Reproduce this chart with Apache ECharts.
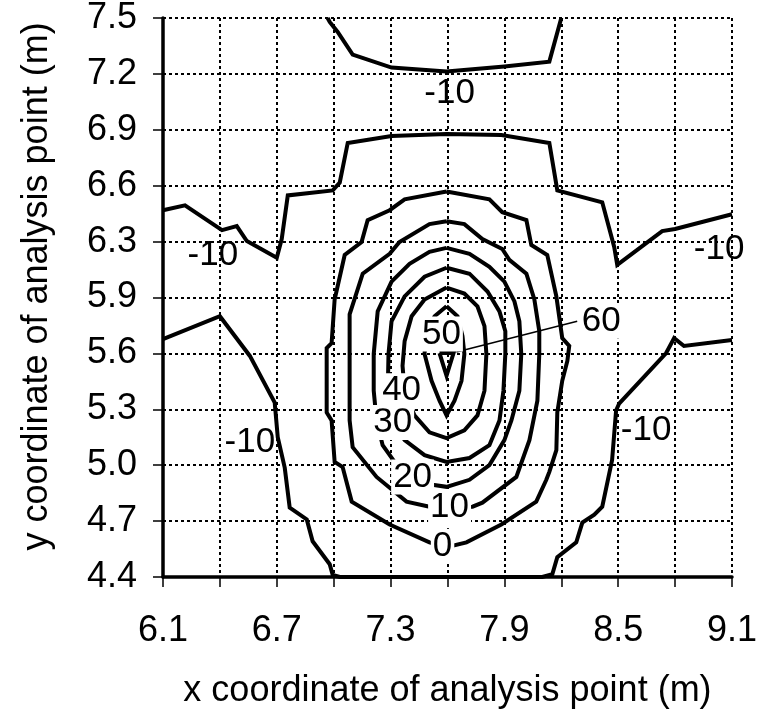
<!DOCTYPE html>
<html><head><meta charset="utf-8">
<script src="https://cdn.jsdelivr.net/npm/echarts@6/dist/echarts.min.js"></script>
<style>html,body{margin:0;padding:0;background:#fff}#c{width:760px;height:714px}</style>
</head><body><div id="c"></div>
<script>
// ---- axis data ----
const xMin = 6.1, xMax = 9.1, xStep = 0.3;
const yMin = 4.4, yMax = 7.5, yStep = 0.31;
const xTickLabels = ['6.1', '6.7', '7.3', '7.9', '8.5', '9.1'];
const yTickLabels = ['4.4', '4.7', '5.0', '5.3', '5.6', '5.9', '6.3', '6.6', '6.9', '7.2', '7.5'];
const xTitle = 'x coordinate of analysis point (m)';
const yTitle = 'y coordinate of analysis point (m)';

// ---- contour lines (x, y in metres) ----
const contourM10Top = [[6.968,7.5],[6.979,7.478],[7.021,7.423],[7.100,7.297],[7.305,7.225],[7.595,7.203],[7.900,7.231],[8.137,7.258],[8.200,7.5]];
const contourM10Upper = [[6.1,6.434],[6.216,6.461],[6.411,6.324],[6.489,6.346],[6.542,6.263],[6.700,6.170],[6.726,6.274],[6.758,6.516],[6.995,6.544],[7.032,6.588],[7.074,6.807],[7.305,6.846],[7.595,6.857],[7.884,6.851],[8.137,6.807],[8.179,6.544],[8.416,6.478],[8.479,6.230],[8.495,6.131],[8.732,6.318],[8.800,6.330],[9.1,6.412]];
const contourM10Lower = [[6.1,5.719],[6.4,5.846],[6.558,5.626],[6.689,5.367],[6.705,5.175],[6.742,5.005],[6.768,4.785],[6.858,4.719],[6.889,4.598],[6.979,4.471],[6.995,4.411],[7.032,4.4],[8.1,4.4],[8.153,4.416],[8.179,4.510],[8.279,4.592],[8.311,4.702],[8.374,4.746],[8.416,4.790],[8.468,5.049],[8.489,5.323],[8.505,5.362],[8.753,5.642],[8.795,5.725],[8.847,5.681],[9.1,5.714]];
const contour0 = [[7.595,6.538],[7.821,6.494],[7.889,6.423],[8.016,6.379],[8.042,6.241],[8.126,6.186],[8.174,5.956],[8.205,5.725],[8.242,5.681],[8.232,5.598],[8.205,5.488],[8.179,5.312],[8.174,5.104],[8.137,4.983],[8.121,4.939],[8.068,4.818],[7.884,4.691],[7.700,4.592],[7.595,4.565],[7.505,4.592],[7.295,4.691],[7.095,4.818],[7.047,5.010],[7.005,5.038],[6.989,5.268],[6.963,5.312],[6.963,5.670],[6.989,5.697],[7.005,5.939],[7.058,6.186],[7.147,6.258],[7.179,6.379],[7.295,6.434],[7.374,6.494],[7.595,6.538]];
const contour10 = [[7.595,6.373],[7.689,6.357],[7.784,6.274],[7.889,6.219],[7.926,6.159],[8.016,6.082],[8.058,5.939],[8.084,5.763],[8.084,5.637],[8.074,5.378],[8.032,5.159],[7.963,4.955],[7.784,4.812],[7.732,4.790],[7.595,4.785],[7.505,4.790],[7.384,4.818],[7.226,4.955],[7.100,5.120],[7.084,5.268],[7.084,5.637],[7.084,5.857],[7.153,6.082],[7.295,6.192],[7.347,6.258],[7.505,6.357],[7.595,6.373]];
const contour20 = [[7.595,6.225],[7.716,6.192],[7.821,6.120],[7.900,6.038],[7.953,5.928],[7.979,5.818],[7.989,5.637],[7.979,5.433],[7.937,5.268],[7.900,5.159],[7.821,5.021],[7.716,4.939],[7.595,4.900],[7.521,4.911],[7.416,4.955],[7.321,5.038],[7.258,5.131],[7.226,5.268],[7.211,5.433],[7.211,5.637],[7.232,5.873],[7.305,6.038],[7.400,6.137],[7.505,6.203],[7.595,6.225]];
const contour30 = [[7.595,6.115],[7.716,6.082],[7.811,5.983],[7.874,5.873],[7.905,5.763],[7.905,5.637],[7.895,5.433],[7.874,5.268],[7.821,5.131],[7.716,5.060],[7.595,5.038],[7.479,5.076],[7.374,5.159],[7.311,5.257],[7.284,5.378],[7.289,5.637],[7.305,5.818],[7.374,5.956],[7.479,6.065],[7.595,6.115]];
const contour40 = [[7.595,6.005],[7.689,5.972],[7.758,5.901],[7.795,5.791],[7.805,5.637],[7.795,5.433],[7.758,5.296],[7.689,5.213],[7.595,5.170],[7.505,5.202],[7.426,5.296],[7.374,5.433],[7.363,5.571],[7.374,5.708],[7.411,5.846],[7.479,5.939],[7.595,6.005]];
const contour50 = [[7.595,5.901],[7.653,5.846],[7.679,5.736],[7.689,5.637],[7.674,5.488],[7.637,5.378],[7.595,5.296],[7.558,5.378],[7.516,5.488],[7.479,5.637],[7.489,5.763],[7.532,5.846],[7.595,5.901]];
const contour60 = [[7.558,5.642],[7.632,5.642],[7.595,5.516],[7.558,5.642]];
const leader60 = [[7.647,5.648],[8.284,5.818]];

// ---- contour labels ----
const outerLabelText = ['-10', '-10', '-10', '-10', '-10'];
const outerLabelX = [7.611, 6.363, 9.032, 6.558, 8.647];
const outerLabelY = [7.082, 6.186, 6.219, 5.148, 5.213];
const innerLabelText = ['0', '10', '20', '30', '40', '50', '60'];
const innerLabelX = [7.574, 7.611, 7.416, 7.311, 7.358, 7.568, 8.411];
const innerLabelY = [4.570, 4.785, 4.955, 5.257, 5.433, 5.747, 5.818];

const FONT = "'Liberation Sans', Arial, Helvetica, sans-serif";

const lines = [contourM10Top, contourM10Upper, contourM10Lower, contour0, contour10, contour20, contour30, contour40, contour50, contour60];
const series = lines.map(d => ({
  type: 'line', data: d, showSymbol: false, symbol: 'none', smooth: false,
  lineStyle: { color: '#000', width: 4, join: 'miter' }, z: 3, silent: true
}));
series.push({
  type: 'line', data: leader60, showSymbol: false, symbol: 'none',
  lineStyle: { color: '#000', width: 1.6 }, z: 3, silent: true
});
function labelSeries(texts, xs, ys, withBg) {
  return {
    type: 'custom', z: 6, silent: true, clip: false,
    data: texts.map((t, i) => [xs[i], ys[i], t]),
    encode: { x: 0, y: 1 },
    renderItem: (params, api) => {
      const p = api.coord([api.value(0), api.value(1)]);
      const style = {
        text: texts[params.dataIndex], x: p[0], y: p[1],
        fill: '#000', font: '35px ' + FONT, align: 'center', verticalAlign: 'middle'
      };
      if (withBg) { style.backgroundColor = '#fff'; style.padding = [0, 2]; }
      return { type: 'text', style: style };
    }
  };
}
series.push(labelSeries(outerLabelText, outerLabelX, outerLabelY, false));
series.push(labelSeries(innerLabelText, innerLabelX, innerLabelY, true));

const chart = echarts.init(document.getElementById('c'), null, { renderer: 'canvas' });
chart.setOption({
  animation: false,
  backgroundColor: '#fff',
  grid: { left: 163, right: 27, top: 14, bottom: 136, containLabel: false },
  xAxis: {
    type: 'value', min: xMin, max: xMax, interval: xStep,
    name: xTitle, nameLocation: 'middle', nameGap: 96,
    nameTextStyle: { fontSize: 36, fontFamily: FONT, color: '#000' },
    axisLine: { onZero: false, lineStyle: { color: '#000', width: 3.5 } },
    axisTick: { show: true, inside: false, length: 10, lineStyle: { color: '#000', width: 1.5 } },
    axisLabel: {
      margin: 36, fontSize: 36, fontFamily: FONT, color: '#000',
      formatter: v => { const k = Math.round((v - xMin) / xStep); return k % 2 === 0 ? xTickLabels[k / 2] : ''; }
    },
    splitLine: { show: true, lineStyle: { color: '#000', width: 2, type: [3, 3] } }
  },
  yAxis: {
    type: 'value', min: yMin, max: yMax, interval: yStep,
    name: yTitle, nameLocation: 'middle', nameGap: 108, nameRotate: 90,
    nameTextStyle: { fontSize: 36, fontFamily: FONT, color: '#000', padding: [0, 0, 0, 22] },
    axisLine: { onZero: false, lineStyle: { color: '#000', width: 3.5 } },
    axisTick: { show: true, inside: false, length: 10, lineStyle: { color: '#000', width: 1.5 } },
    axisLabel: {
      margin: 26, fontSize: 36, fontFamily: FONT, color: '#000',
      formatter: v => yTickLabels[Math.round((v - yMin) / yStep)]
    },
    splitLine: { show: true, lineStyle: { color: '#000', width: 2, type: [3, 3] } }
  },
  series: series
});
</script></body></html>
